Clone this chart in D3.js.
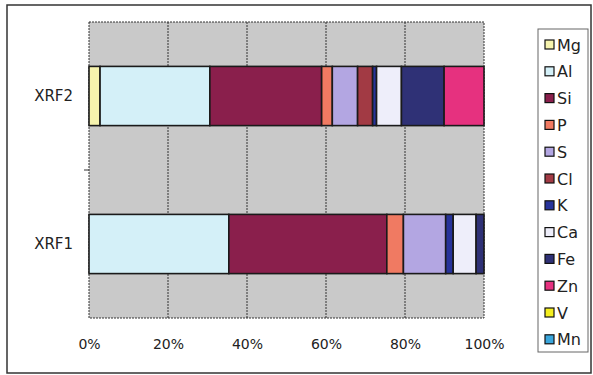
<!DOCTYPE html>
<html>
<head>
<meta charset="utf-8">
<script src="https://cdn.jsdelivr.net/npm/d3@7"></script>
<style>
  body { margin: 0; background: #fff; }
  svg text { font-family: "DejaVu Sans", "Liberation Sans", sans-serif; fill: #222; }
</style>
</head>
<body>
<svg id="chart"></svg>
<script>
// categories, top to bottom
const categories = ['XRF2', 'XRF1'];
const elements = ['Mg', 'Al', 'Si', 'P', 'S', 'Cl', 'K', 'Ca', 'Fe', 'Zn', 'V', 'Mn'];
// percent shares, in element order
const xrf2Values = [2.8, 27.8, 28.3, 2.7, 6.4, 3.8, 1.0, 6.3, 10.8, 10.1, 0, 0];
const xrf1Values = [0, 35.4, 40.0, 4.2, 10.7, 0, 1.9, 5.8, 2.0, 0, 0, 0];
const elementColors = ['#f6f3ae', '#d4f0f8', '#8a1f4c', '#f07a62', '#b3a6e2', '#a23a44',
  '#27339a', '#eeeefa', '#2f3176', '#e6317f', '#f4ee1e', '#3aa6dc'];
const tickValues = [0, 20, 40, 60, 80, 100];

const W = 593, H = 375;
const margin = { top: 22, left: 89, right: 109, bottom: 57 };
const width = 484 - margin.left;
const height = 318 - margin.top;

const svg = d3.select('#chart').attr('width', W).attr('height', H);

// outer frame
svg.append('rect')
  .attr('x', 7).attr('y', 5).attr('width', 584).attr('height', 368)
  .attr('fill', '#fff').attr('stroke', '#333').attr('stroke-width', 1.5);

const g = svg.append('g').attr('transform', `translate(${margin.left},${margin.top})`);

const xScale = d3.scaleLinear().domain([0, 100]).range([0, width]);
const yScale = d3.scaleBand().domain(categories).range([0, height]).paddingInner(0.6).paddingOuter(0.3);

const colorScale = d3.scaleOrdinal().domain(elements).range(elementColors);

// plot background
g.append('rect')
  .attr('width', width).attr('height', height)
  .attr('fill', '#c9c9c9');

// vertical gridlines
g.selectAll('line.grid').data(tickValues.slice(1, -1))
  .enter().append('line')
    .attr('class', 'grid')
    .attr('x1', d => xScale(d)).attr('x2', d => xScale(d))
    .attr('y1', 0).attr('y2', height)
    .attr('stroke', '#333').attr('stroke-width', 1)
    .attr('stroke-dasharray', '2,1');

// plot border
g.append('rect')
  .attr('width', width).attr('height', height)
  .attr('fill', 'none').attr('stroke', '#333').attr('stroke-width', 1)
  .attr('stroke-dasharray', '2,1');

// stacked data
const rows = [xrf2Values, xrf1Values];
const segments = [];
categories.forEach((cat, ci) => {
  let acc = 0;
  elements.forEach((el, ei) => {
    const v = rows[ci][ei];
    if (v > 0) {
      segments.push({ cat, el, x0: acc, x1: acc + v });
      acc += v;
    }
  });
});

g.selectAll('rect.seg').data(segments)
  .enter().append('rect')
    .attr('class', 'seg')
    .attr('x', d => xScale(d.x0))
    .attr('y', d => yScale(d.cat))
    .attr('width', d => xScale(d.x1) - xScale(d.x0))
    .attr('height', yScale.bandwidth())
    .attr('fill', d => colorScale(d.el))
    .attr('stroke', '#1a1a1a').attr('stroke-width', 1.6);

// X axis
const xAxis = d3.axisBottom(xScale)
  .tickValues(tickValues)
  .tickFormat(d => d + '%')
  .tickSize(0)
  .tickPadding(21);
const xAxisG = g.append('g')
  .attr('transform', `translate(0,${height})`)
  .call(xAxis);
xAxisG.select('.domain').remove();
xAxisG.selectAll('text')
  .style('font-size', '14px')
  .style('font-family', '"DejaVu Sans", sans-serif')
  .attr('fill', '#222');

// Y axis
const yAxis = d3.axisLeft(yScale).tickSize(0).tickPadding(16);
const yAxisG = g.append('g').call(yAxis);
yAxisG.select('.domain').remove();
yAxisG.selectAll('text')
  .style('font-size', '15px')
  .attr('fill', '#222');

// small tick between categories
g.append('line')
  .attr('x1', -5).attr('x2', 0)
  .attr('y1', height / 2).attr('y2', height / 2)
  .attr('stroke', '#333');

// legend
const legend = svg.append('g').attr('transform', 'translate(538,29)');
legend.append('rect')
  .attr('width', 50).attr('height', 323)
  .attr('fill', '#fff').attr('stroke', '#666').attr('stroke-width', 1);

const legendItems = legend.selectAll('g.item').data(elements)
  .enter().append('g')
    .attr('class', 'item')
    .attr('transform', (d, i) => `translate(7,${16 + i * 26.8})`);
legendItems.append('rect')
  .attr('x', 0).attr('y', -5)
  .attr('width', 9).attr('height', 9)
  .attr('fill', d => colorScale(d))
  .attr('stroke', '#111').attr('stroke-width', 1.2);
legendItems.append('text')
  .attr('x', 12).attr('y', 0)
  .attr('dy', '0.35em')
  .style('font-size', '16px')
  .text(d => d);
</script>
</body>
</html>
